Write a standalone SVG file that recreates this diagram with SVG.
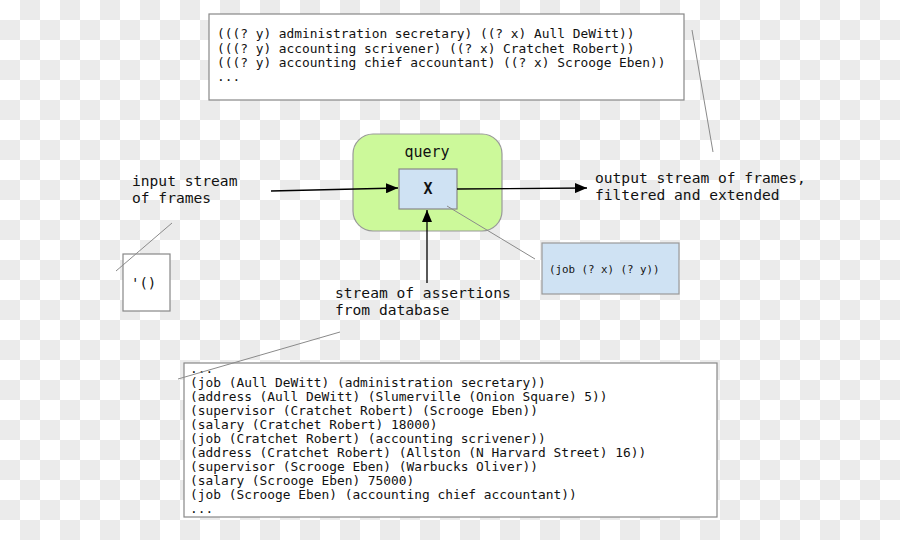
<svg xmlns="http://www.w3.org/2000/svg" width="900" height="540" viewBox="0 0 900 540">
<style>
.mono{font-family:"DejaVu Sans Mono","Liberation Mono",monospace;fill:#111}
.box{font-size:12.85px}
.lbl{font-size:14.6px}
.frame{fill:#fff;stroke:#888;stroke-width:1.2}
.lead{stroke:#8a8a8a;stroke-width:1;fill:none}
.arr{stroke:#000;stroke-width:1.3;fill:none;marker-end:url(#ah)}
</style>
<defs>
<pattern id="chk" width="40" height="40" patternUnits="userSpaceOnUse">
<rect width="40" height="40" fill="#fff"/>
<rect x="20" y="0" width="20" height="20" fill="#ebebeb"/>
<rect x="0" y="20" width="20" height="20" fill="#ebebeb"/>
</pattern>
<marker id="ah" viewBox="0 0 12 10" refX="12" refY="5" markerWidth="12" markerHeight="10" markerUnits="userSpaceOnUse" orient="auto">
<path d="M0,0 L12,5 L0,10 z" fill="#000"/>
</marker>
</defs>
<rect width="900" height="540" fill="url(#chk)"/>

<g id="results">
<rect class="frame" x="209" y="14" width="475" height="86"/>
<text class="mono box" x="217" y="38">(((? y) administration secretary) ((? x) Aull DeWitt))</text>
<text class="mono box" x="217" y="53">(((? y) accounting scrivener) ((? x) Cratchet Robert))</text>
<text class="mono box" x="217" y="67">(((? y) accounting chief accountant) ((? x) Scrooge Eben))</text>
<text class="mono box" x="217" y="81">...</text>
</g>

<g id="query">
<rect x="353" y="134" width="149" height="97" rx="20" ry="20" fill="#ccf99a" stroke="#999" stroke-width="1.2"/>
<text class="mono" x="427" y="157" font-size="15" text-anchor="middle">query</text>
</g>

<g id="x">
<rect x="399" y="169" width="58" height="40" fill="#cfe2f3" stroke="#888" stroke-width="1.2"/>
<text class="mono" x="428" y="194" font-size="15" font-weight="bold" text-anchor="middle">X</text>
</g>

<g id="pattern">
<rect x="542" y="243" width="137" height="51" fill="#cfe2f3" stroke="#999" stroke-width="1.2"/>
<text class="mono" x="549" y="273" font-size="10.8">(job (? x) (? y))</text>
</g>

<g id="input">
<text class="mono lbl" x="132" y="186">input stream</text>
<text class="mono lbl" x="132" y="203">of frames</text>
</g>

<g id="empty">
<rect class="frame" x="123" y="254" width="47" height="57"/>
<text class="mono" x="131" y="288" font-size="14">'()</text>
</g>

<g id="output">
<text class="mono lbl" x="595" y="183">output stream of frames,</text>
<text class="mono lbl" x="595" y="200">filtered and extended</text>
</g>

<g id="assertions">
<text class="mono lbl" x="335" y="298">stream of assertions</text>
<text class="mono lbl" x="335" y="315">from database</text>
</g>

<g id="database">
<rect class="frame" x="184" y="363" width="533" height="154"/>
<text class="mono box" x="190" y="373">...</text>
<text class="mono box" x="190" y="387">(job (Aull DeWitt) (administration secretary))</text>
<text class="mono box" x="190" y="401">(address (Aull DeWitt) (Slumerville (Onion Square) 5))</text>
<text class="mono box" x="190" y="415">(supervisor (Cratchet Robert) (Scrooge Eben))</text>
<text class="mono box" x="190" y="429">(salary (Cratchet Robert) 18000)</text>
<text class="mono box" x="190" y="443">(job (Cratchet Robert) (accounting scrivener))</text>
<text class="mono box" x="190" y="457">(address (Cratchet Robert) (Allston (N Harvard Street) 16))</text>
<text class="mono box" x="190" y="471">(supervisor (Scrooge Eben) (Warbucks Oliver))</text>
<text class="mono box" x="190" y="485">(salary (Scrooge Eben) 75000)</text>
<text class="mono box" x="190" y="499">(job (Scrooge Eben) (accounting chief accountant))</text>
<text class="mono box" x="190" y="513">...</text>
</g>

<g id="connectors">
<line class="arr" x1="271" y1="191" x2="398" y2="188"/>
<line class="arr" x1="457" y1="189" x2="587" y2="188"/>
<line class="arr" x1="427" y1="283" x2="427" y2="210"/>
<line class="lead" x1="692" y1="30" x2="713" y2="152"/>
<line class="lead" x1="447" y1="206" x2="535" y2="259"/>
<line class="lead" x1="172" y1="223" x2="116" y2="271"/>
<line class="lead" x1="340" y1="332" x2="178" y2="379"/>
</g>
</svg>
